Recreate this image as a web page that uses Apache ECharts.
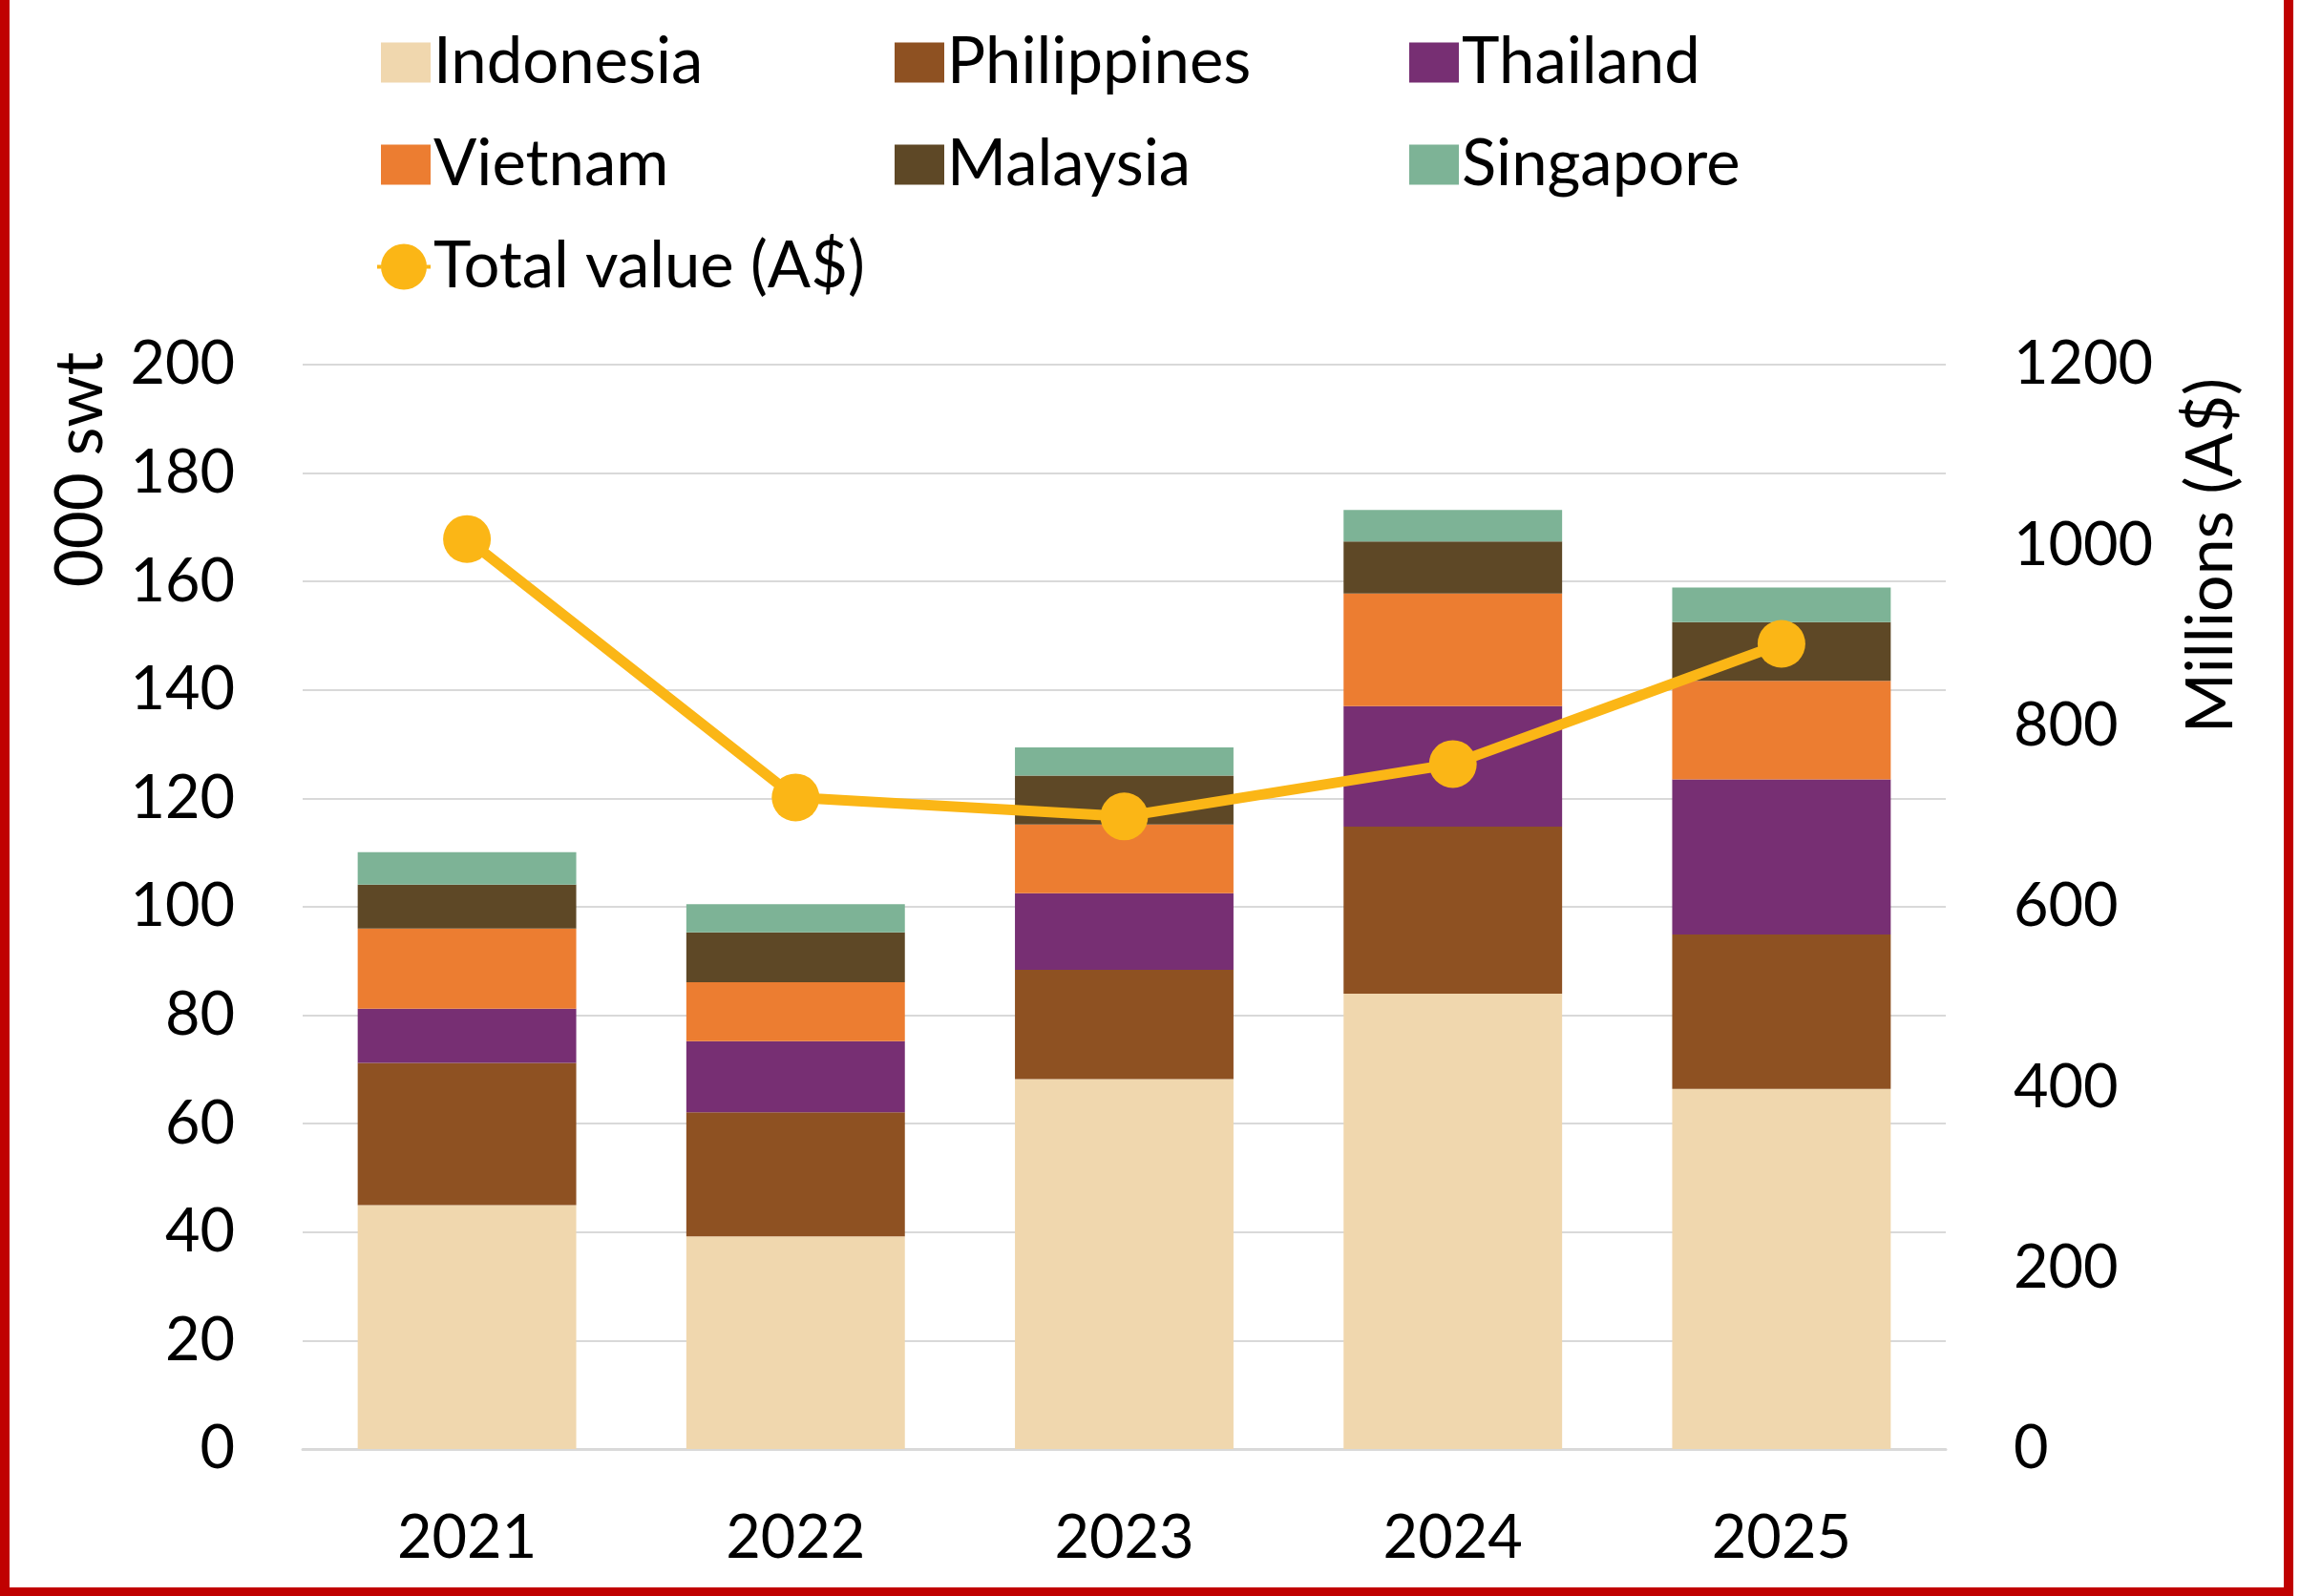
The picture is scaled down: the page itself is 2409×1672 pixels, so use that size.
<!DOCTYPE html>
<html>
<head>
<meta charset="utf-8">
<script src="https://cdn.jsdelivr.net/npm/echarts@6/dist/echarts.min.js"></script>
<style>
  html, body { margin: 0; padding: 0; background: #fff; }
  #chart { width: 2409px; height: 1672px; }
</style>
</head>
<body>
<div id="chart"></div>
<script>
var years = ['2021', '2022', '2023', '2024', '2025'];
var indonesia = [45.0, 39.2, 68.2, 84.0, 66.4];
var philippines = [26.2, 22.9, 20.2, 30.8, 28.5];
var thailand = [10.0, 13.1, 14.1, 22.2, 28.6];
var vietnam = [14.8, 10.9, 12.7, 20.8, 18.2];
var malaysia = [8.1, 9.2, 9.0, 9.6, 10.8];
var singapore = [6.0, 5.2, 5.2, 5.8, 6.4];
var totalValue = [1007, 721, 700, 758, 891];

var font = 'Lato, "Open Sans", sans-serif';
var fs = 63;

function bar(name, data, color) {
    return {
        name: name,
        type: 'bar',
        stack: 'swt',
        data: data,
        barWidth: '66.5%',
        itemStyle: { color: color }
    };
}

function legendCol(left, top, names, icon, w, h) {
    return {
        orient: 'vertical',
        left: left,
        top: top,
        data: names,
        icon: icon,
        itemWidth: w,
        itemHeight: h,
        itemGap: 40,
        textStyle: { fontFamily: font, fontSize: 67, color: '#000', padding: [0, 0, 0, -2] }
    };
}

// circle with short line stubs, for the line series key
var lineIcon = 'path://M2,12a12,12 0 1,0 24,0a12,12 0 1,0 -24,0z M0,11h2.05v2h-2.05z M25.95,11h2.05v2h-2.05z';

var myChart = echarts.init(document.getElementById('chart'));
option = {
    backgroundColor: '#fff',
    animation: false,
    legend: [
        legendCol(394, 27, ['Indonesia', 'Vietnam'], 'rect', 52, 42),
        legendCol(932, 27, ['Philippines', 'Malaysia'], 'rect', 52, 42),
        legendCol(1471, 27, ['Thailand', 'Singapore'], 'rect', 52, 42),
        legendCol(390, 241, ['Total value (A$)'], lineIcon, 56, 48)
    ],
    grid: { left: 317, right: 371, top: 382, bottom: 154, containLabel: false },
    xAxis: {
        type: 'category',
        data: years,
        axisLine: { lineStyle: { color: '#D9D9D9', width: 3 } },
        axisTick: { show: false },
        axisLabel: { fontFamily: font, fontSize: fs, color: '#000', margin: 62 }
    },
    yAxis: [
        {
            type: 'value',
            min: 0,
            max: 200,
            interval: 20,
            axisLine: { show: false },
            axisTick: { show: false },
            splitLine: { lineStyle: { color: '#D9D9D9', width: 2 } },
            axisLabel: { fontFamily: font, fontSize: fs, color: '#000', margin: 71 }
        },
        {
            type: 'value',
            min: 0,
            max: 1200,
            interval: 200,
            axisLine: { show: false },
            axisTick: { show: false },
            splitLine: { show: false },
            axisLabel: {
                fontFamily: font, fontSize: fs, color: '#000', margin: 71,
                formatter: function (v) { return String(v); }
            }
        }
    ],
    graphic: [
        {
            type: 'text',
            x: 85, y: 492,
            rotation: Math.PI / 2,
            style: {
                text: '000 swt', font: '69px ' + font, fill: '#000',
                align: 'center', verticalAlign: 'middle'
            }
        },
        {
            type: 'text',
            x: 2316, y: 582,
            rotation: Math.PI / 2,
            style: {
                text: 'Millions (A$)', font: '68px ' + font, fill: '#000',
                align: 'center', verticalAlign: 'middle'
            }
        },
        {
            type: 'rect',
            silent: true,
            shape: { x: 5, y: -20, width: 2392, height: 1688 },
            style: { fill: 'none', stroke: '#C00000', lineWidth: 10 }
        }
    ],
    series: [
        bar('Indonesia', indonesia, '#F0D7AE'),
        bar('Philippines', philippines, '#8E5122'),
        bar('Thailand', thailand, '#772F73'),
        bar('Vietnam', vietnam, '#EC7D31'),
        bar('Malaysia', malaysia, '#5E4826'),
        bar('Singapore', singapore, '#7DB396'),
        {
            name: 'Total value (A$)',
            type: 'line',
            yAxisIndex: 1,
            data: totalValue,
            symbol: 'circle',
            symbolSize: 50,
            z: 10,
            lineStyle: { color: '#FBB616', width: 11 },
            itemStyle: { color: '#FBB616' }
        }
    ]
};
myChart.setOption(option);
</script>
</body>
</html>
